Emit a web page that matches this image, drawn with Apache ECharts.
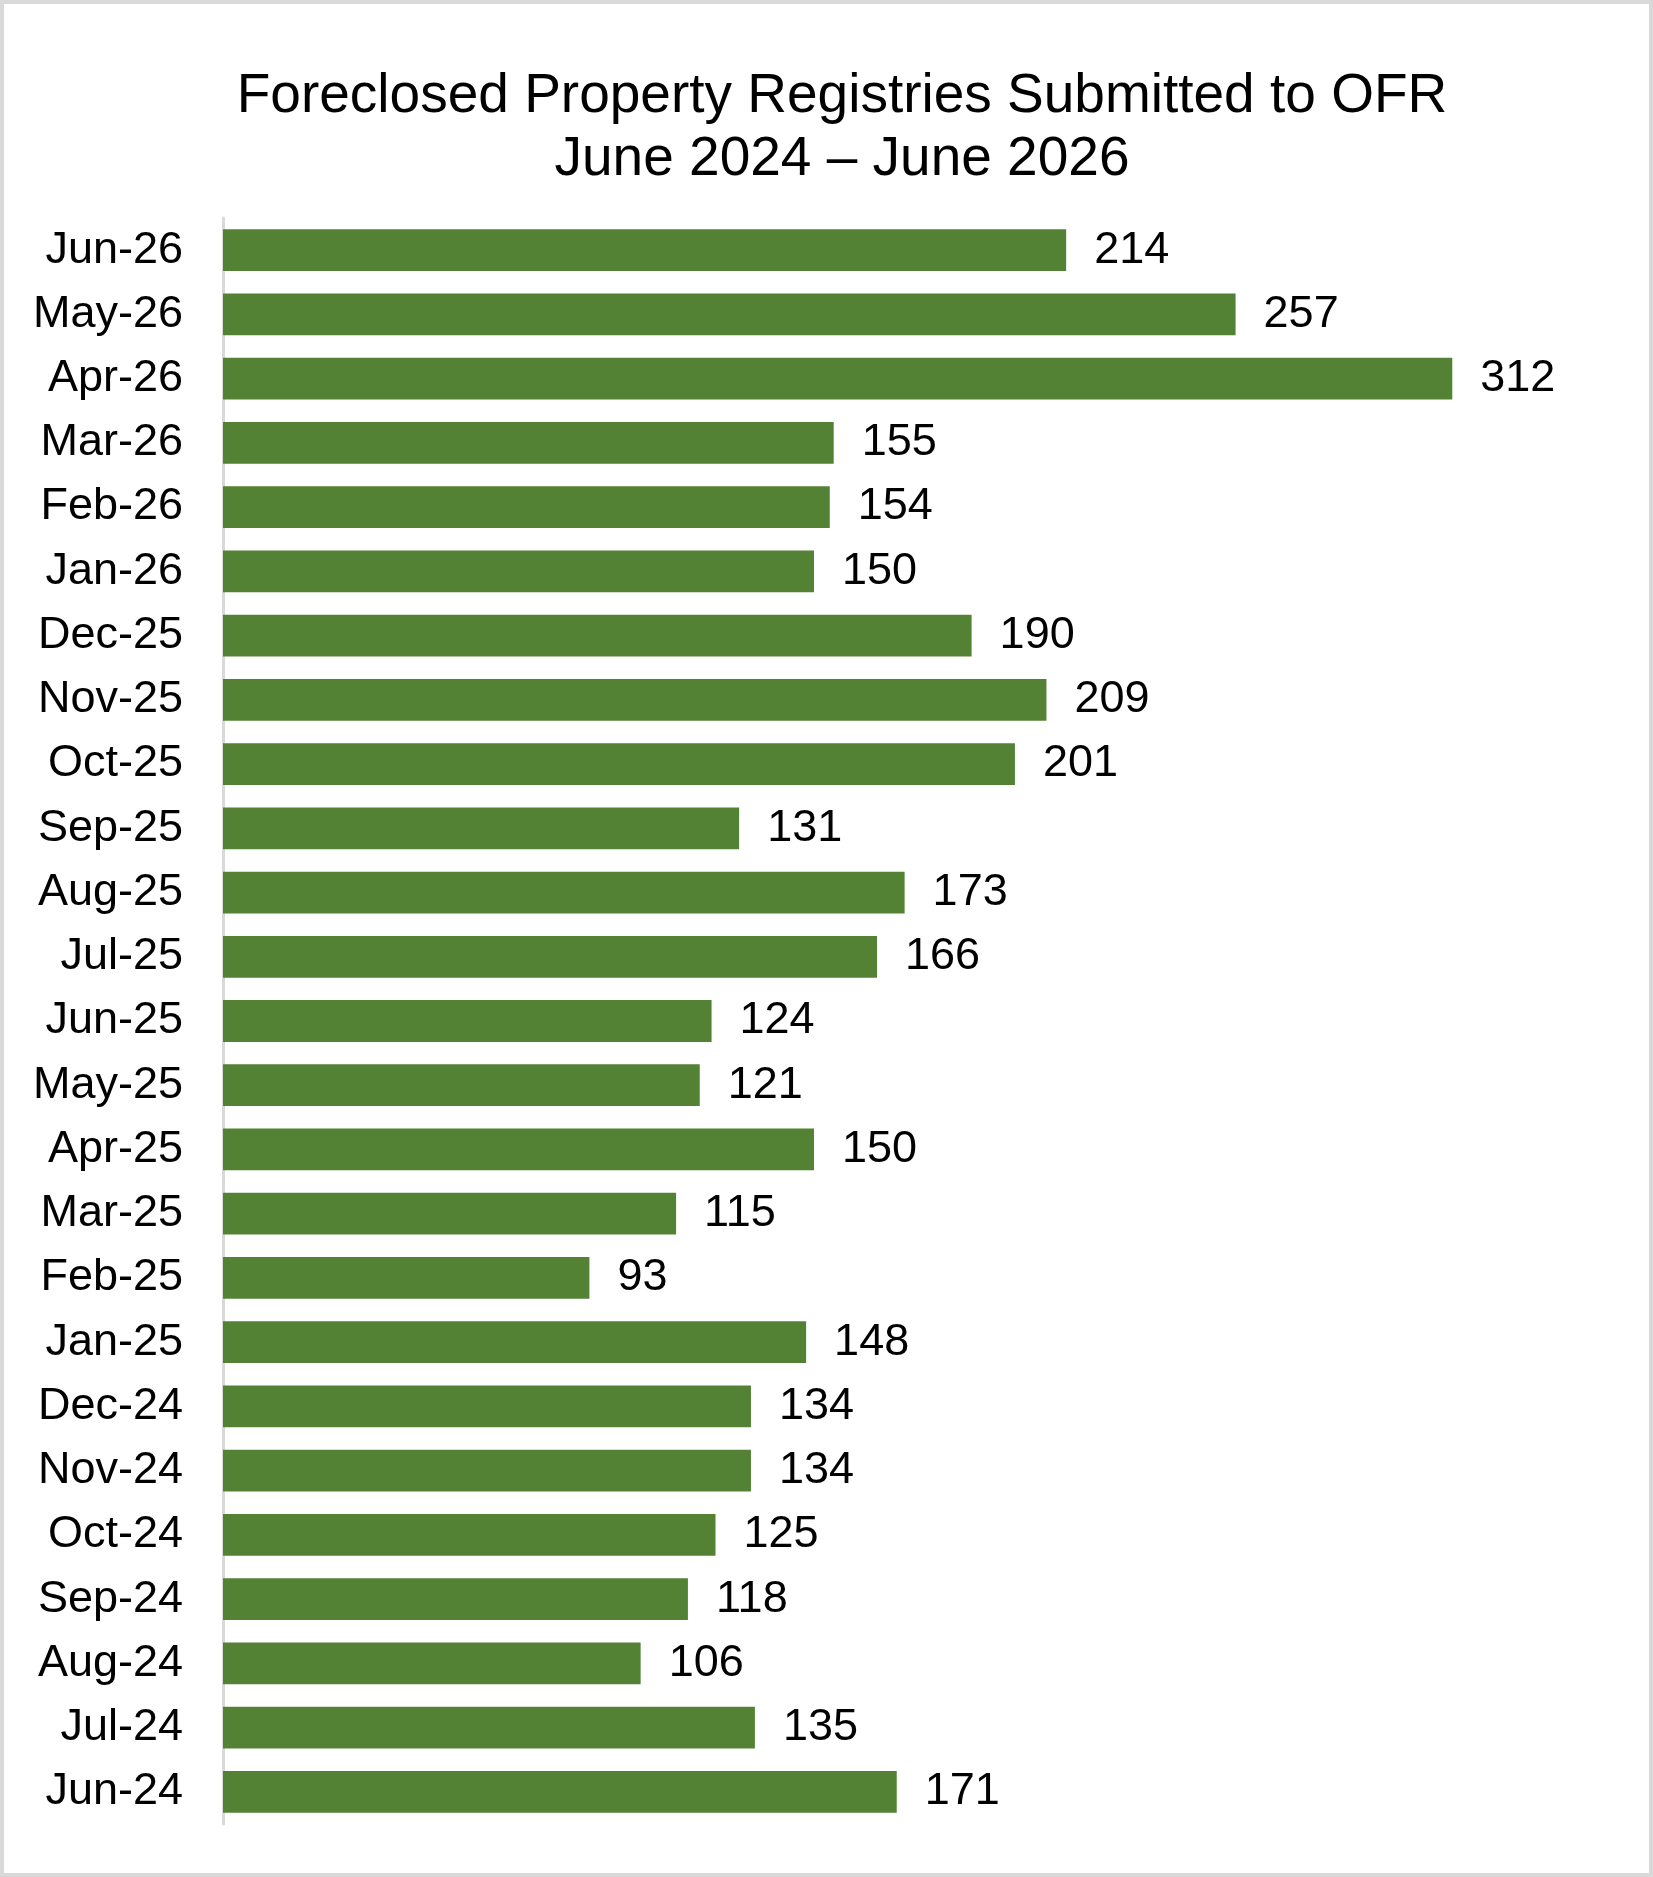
<!DOCTYPE html>
<html>
<head>
<meta charset="utf-8">
<script src="https://cdn.jsdelivr.net/npm/echarts@6/dist/echarts.min.js"></script>
<style>
html,body{margin:0;padding:0;background:#fff;}
#chart{width:1653px;height:1877px;}
</style>
</head>
<body>
<div id="chart"></div>
<script>
const titleLines = ["Foreclosed Property Registries Submitted to OFR", "June 2024 \u2013 June 2026"];
const categories = ["Jun-24","Jul-24","Aug-24","Sep-24","Oct-24","Nov-24","Dec-24","Jan-25","Feb-25","Mar-25","Apr-25","May-25","Jun-25","Jul-25","Aug-25","Sep-25","Oct-25","Nov-25","Dec-25","Jan-26","Feb-26","Mar-26","Apr-26","May-26","Jun-26"];
const registries = [171,135,106,118,125,134,134,148,93,115,150,121,124,166,173,131,201,209,190,150,154,155,312,257,214];

const chart = echarts.init(document.getElementById('chart'), null, {renderer:'canvas'});
const font = "'Liberation Sans', Arial, sans-serif";
chart.setOption({
  backgroundColor: '#ffffff',
  animation: false,
  title: {
    text: titleLines.join('\n'),
    left: 837,
    top: 60,
    textAlign: 'center',
    textStyle: {fontFamily: font, fontSize: 55, fontWeight: 'normal', color: '#000', lineHeight: 63}
  },
  graphic: [{
    type: 'rect',
    shape: {x: 2, y: 2, width: 1649, height: 1873},
    style: {fill: 'none', stroke: '#d9d9d9', lineWidth: 4},
    silent: true
  }],
  grid: {left: 223, top: 218, width: 1379, height: 1606, containLabel: false},
  xAxis: {
    type: 'value', min: 0, max: 350, show: false
  },
  yAxis: {
    type: 'category',
    data: categories,
    axisLine: {show: true, lineStyle: {color: '#d9d9d9', width: 3}},
    axisTick: {show: false},
    axisLabel: {fontFamily: font, fontSize: 45, color: '#000', margin: 40}
  },
  series: [{
    type: 'bar',
    data: registries,
    barCategoryGap: '35%',
    itemStyle: {color: '#548235'},
    label: {show: true, position: 'right', distance: 28, fontFamily: font, fontSize: 45, color: '#000'}
  }]
});
</script>
</body>
</html>
